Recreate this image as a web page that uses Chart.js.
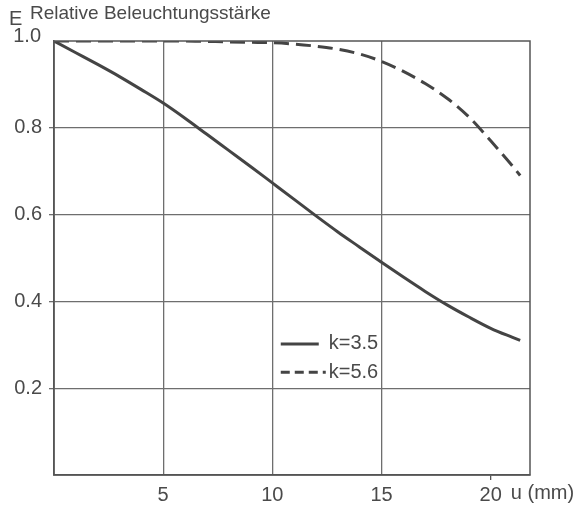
<!DOCTYPE html>
<html>
<head>
<meta charset="utf-8">
<script src="https://cdn.jsdelivr.net/npm/chart.js@4.4.0/dist/chart.umd.min.js"></script>
<style>
  body { margin: 0; background: #fff; }
  canvas { display: block; }
</style>
</head>
<body>
<canvas id="chart" width="587" height="512"></canvas>
<script>
// Werte
const uValues = [0, 1, 2, 3, 4, 5, 6, 7, 8, 9, 10, 11, 12, 13, 14, 15, 16, 17, 18, 19, 20, 21, 21.35];
const eK35 = [1.0, 0.973, 0.946, 0.918, 0.888, 0.857, 0.822, 0.785, 0.748, 0.711, 0.673, 0.635, 0.597, 0.56, 0.525, 0.49, 0.456, 0.423, 0.392, 0.364, 0.338, 0.317, 0.31];
const eK56 = [1.0, 1.0, 1.0, 1.0, 1.0, 1.0, 1.0, 0.999, 0.998, 0.997, 0.996, 0.993, 0.988, 0.981, 0.97, 0.953, 0.93, 0.902, 0.868, 0.825, 0.77, 0.712, 0.69];
const seriesLabels = ['k=3.5', 'k=5.6'];
const xTicks = [0, 5, 10, 15, 20];
const yTicks = [0, 0.2, 0.4, 0.6, 0.8, 1.0];
const yLetter = 'E';
const chartTitle = 'Relative Beleuchtungsstärke';
const xUnit = 'u (mm)';

const ink = '#4a4a4a';
const gridInk = '#6e6e6e';
const font = { family: '"Liberation Sans", Arial, sans-serif', size: 20 };

const toPoints = ys => uValues.map((u, i) => ({ x: u, y: ys[i] }));

// Titel, Rahmen, Einheit und Legende
const decorations = {
    id: 'decorations',
    afterDraw(chart) {
        const { ctx, chartArea, scales } = chart;
        ctx.save();
        // Rahmen
        ctx.strokeStyle = '#555';
        ctx.lineWidth = 1.5;
        ctx.strokeRect(chartArea.left, chartArea.top, chartArea.right - chartArea.left, chartArea.bottom - chartArea.top);

        ctx.fillStyle = ink;
        ctx.textBaseline = 'alphabetic';
        ctx.font = '20px ' + font.family;
        ctx.fillText(yLetter, 9, 25);
        ctx.font = '19px ' + font.family;
        ctx.fillText(chartTitle, 30, 19);

        // oberster Wert sitzt über der Rahmenlinie
        ctx.font = '20px ' + font.family;
        ctx.textAlign = 'right';
        ctx.textBaseline = 'middle';
        ctx.fillText(yTicks[yTicks.length - 1].toFixed(1), chartArea.left - 13, scales.y.getPixelForValue(1) - 5);

        // Einheit hinter der "20"
        ctx.textAlign = 'left';
        const x20 = scales.x.getPixelForValue(20);
        ctx.textBaseline = 'top';
        ctx.fillText(xUnit, x20 + ctx.measureText('20').width / 2 + 9, scales.x.top + 8);

        // Legende
        const right = scales.x.getPixelForValue(14.85);
        const rows = [0.302, 0.237];
        ctx.textAlign = 'right';
        ctx.textBaseline = 'middle';
        chart.data.datasets.forEach((ds, i) => {
            const y = scales.y.getPixelForValue(rows[i]);
            const textW = ctx.measureText(ds.label).width;
            ctx.fillText(ds.label, right, y);
            const x1 = right - textW - (i === 0 ? 10 : 3);
            ctx.beginPath();
            ctx.strokeStyle = ds.borderColor;
            ctx.lineWidth = ds.borderWidth;
            ctx.setLineDash(i === 0 ? [] : [9, 5]);
            ctx.moveTo(right - textW - 48, y);
            ctx.lineTo(x1, y);
            ctx.stroke();
        });
        ctx.restore();
    }
};

new Chart(document.getElementById('chart'), {
    type: 'line',
    data: {
        datasets: [{
            label: seriesLabels[0],
            data: toPoints(eK35),
            borderColor: '#444',
            borderWidth: 3,
            pointRadius: 0,
            cubicInterpolationMode: 'monotone'
        }, {
            label: seriesLabels[1],
            data: toPoints(eK56),
            borderColor: '#444',
            borderWidth: 3,
            borderDash: [15, 7],
            pointRadius: 0,
            cubicInterpolationMode: 'monotone'
        }]
    },
    options: {
        responsive: false,
        animation: false,
        layout: { padding: { top: 41, right: 57, left: 0, bottom: 0 } },
        plugins: { legend: { display: false }, tooltip: { enabled: false } },
        scales: {
            x: {
                type: 'linear',
                min: 0,
                max: 21.8,
                afterBuildTicks: s => { s.ticks = xTicks.map(v => ({ value: v })); },
                afterFit: s => { s.height = 37; },
                border: { color: '#555', width: 1.5 },
                grid: {
                    color: c => (c.tick && [5, 10, 15].includes(c.tick.value)) ? gridInk : 'rgba(0,0,0,0)',
                    tickColor: c => (c.tick && c.tick.value === 20) ? '#555' : 'rgba(0,0,0,0)',
                    tickLength: 5,
                    lineWidth: 1.3
                },
                ticks: {
                    color: ink,
                    font: font,
                    padding: 3,
                    maxRotation: 0,
                    callback: v => v === 0 ? '' : String(v)
                }
            },
            y: {
                min: 0,
                max: 1,
                afterBuildTicks: s => { s.ticks = yTicks.map(v => ({ value: v })); },
                afterFit: s => { s.width = 54; },
                border: { color: '#555', width: 1.5 },
                grid: {
                    color: c => (c.tick && c.tick.value > 0.01 && c.tick.value < 0.99) ? gridInk : 'rgba(0,0,0,0)',
                    tickColor: c => (c.tick && c.tick.value > 0.01 && c.tick.value < 0.99) ? gridInk : 'rgba(0,0,0,0)',
                    tickLength: 5,
                    lineWidth: 1.3
                },
                ticks: {
                    color: ink,
                    font: font,
                    padding: 7,
                    callback: v => (v === 0 || v > 0.99) ? '' : v.toFixed(1)
                }
            }
        }
    },
    plugins: [decorations]
});
</script>
</body>
</html>
